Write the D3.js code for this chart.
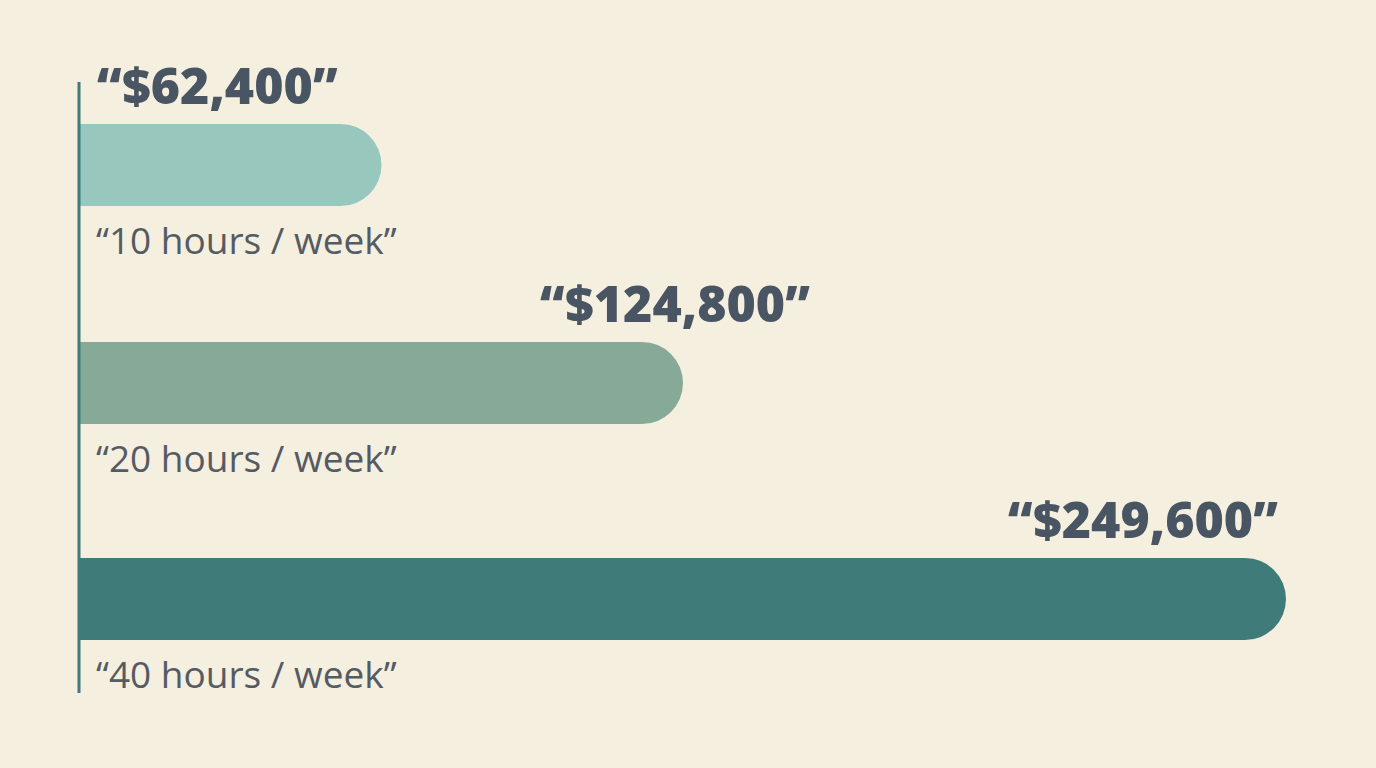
<!DOCTYPE html>
<html><head><meta charset="utf-8">
<script src="https://cdn.jsdelivr.net/npm/d3@7"></script>
<style>body{margin:0;background:#f5efdf}</style>
</head><body>
<script>
const categories = ["“10 hours / week”", "“20 hours / week”", "“40 hours / week”"];
const values = [62400, 124800, 249600];
const valueLabels = ["“$62,400”", "“$124,800”", "“$249,600”"];
const colors = ["#97c7bd", "#87aa98", "#3f7b78"];

const W = 1376, H = 768;
const svg = d3.select("body").append("svg").attr("width", W).attr("height", H)
  .style("background", "#f5efdf");

const x = d3.scaleLinear().domain([0, 249600]).range([80, 1286]);
const y = d3.scaleBand().domain(d3.range(3)).range([124, 559 + 82 + 137]).paddingInner(0);
const bh = 82;
const rows = [124, 343, 559];
y.range([124, 124 + 218 * 3]);

const g = svg.selectAll("g.row").data(values).enter().append("g");

g.append("path")
  .attr("fill", (d, i) => colors[i])
  .attr("d", (d, i) => {
    const y0 = y(i) + (i == 2 ? -2 : 0), x0 = 80, x1 = x(d), r = bh / 2;
    return `M${x0},${y0} H${x1 - r} A${r},${r} 0 0 1 ${x1 - r},${y0 + bh} H${x0} Z`;
  });

const labelAnchor = [["start", 97], ["end", 815], ["end", 1278]];
g.append("text")
  .attr("x", (d, i) => i == 0 ? 97 : i == 1 ? x(d) + 127 : x(d) - 8)
  .attr("y", (d, i) => y(i) - 20 + (i == 2 ? -2 : 0))
  .attr("text-anchor", (d, i) => i == 0 ? "start" : "end")
  .attr("font-family", "Open Sans, sans-serif").attr("font-weight", 800)
  .attr("font-size", 50).attr("fill", "#4a5563")
  .text((d, i) => valueLabels[i]);

g.append("text")
  .attr("x", 96)
  .attr("y", (d, i) => y(i) + bh + 48 + (i == 2 ? -2 : 0))
  .attr("font-family", "Open Sans, sans-serif")
  .attr("font-size", 37).attr("fill", "#555b63")
  .text((d, i) => categories[i]);

svg.append("line").attr("x1", 79).attr("x2", 79).attr("y1", 82).attr("y2", 693)
  .attr("stroke", "#3f7b78").attr("stroke-width", 3);
</script>
</body></html>
